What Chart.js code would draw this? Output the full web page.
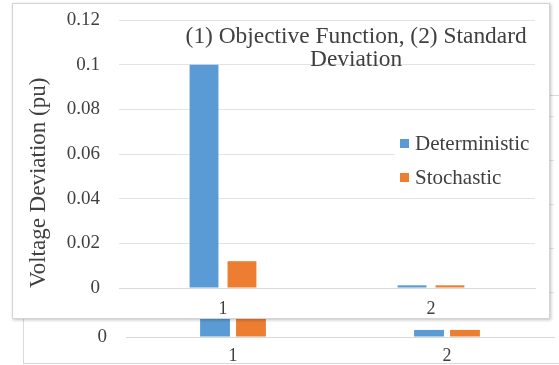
<!DOCTYPE html>
<html>
<head>
<meta charset="utf-8">
<script src="https://cdn.jsdelivr.net/npm/chart.js@4"></script>
<style>
  html, body { margin: 0; padding: 0; background: #fff; overflow: hidden; width: 559px; height: 365px; }
  #back { position: absolute; left: 23px; top: 95px; width: 600px; height: 267px; border: 1px solid #d9d9d9; background: #fff; }
  #main { position: absolute; left: 12px; top: 3px; width: 536px; height: 314px; border: 1px solid #d4d4d4; background: #fff; box-shadow: 1px 1px 3px rgba(0,0,0,0.25); }
</style>
</head>
<body>
<div id="back"><canvas id="backChart"></canvas></div>
<div id="main"><canvas id="priceChart"></canvas></div>
<script>
// data
const categories = ['1', '2'];
const deterministic = [0.1, 0.0012];
const stochastic = [0.012, 0.0012];
const yTickLabels = ['0', '0.02', '0.04', '0.06', '0.08', '0.1', '0.12'];
const titleLines = ['(1) Objective Function, (2) Standard', 'Deviation'];
const seriesNames = ['Deterministic', 'Stochastic'];

// the half-hidden figure underneath
const backDeterministic = [0.1, 0.0032];
const backStochastic = [0.012, 0.0032];

const blue = '#5B9BD5';
const orange = '#ED7D31';
const serif = 'Liberation Serif, serif';
const textColor = '#404040';

// title and legend sit inside the plot area, so draw them here
const insideText = {
    id: 'insideText',
    afterDatasetsDraw(chart) {
        const ctx = chart.ctx;
        const a = chart.chartArea;
        ctx.save();
        ctx.fillStyle = textColor;
        ctx.textAlign = 'center';
        ctx.textBaseline = 'middle';
        ctx.font = '23.4px ' + serif;
        const cx = a.left + (a.right - a.left) * 0.57;
        ctx.fillText(titleLines[0], cx, a.top + 17);
        ctx.fillText(titleLines[1], cx, a.top + 40);

        // legend
        ctx.fillStyle = '#fff';
        ctx.fillRect(a.left + 276, a.top + 104, 140, 68);
        const colors = [blue, orange];
        ctx.font = '21px ' + serif;
        ctx.textAlign = 'left';
        for (let i = 0; i < seriesNames.length; i++) {
            const y = a.top + 124 + i * 34;
            ctx.fillStyle = colors[i];
            ctx.fillRect(a.left + 281, y - 5, 9, 9);
            ctx.fillStyle = textColor;
            ctx.fillText(seriesNames[i], a.left + 296, y);
        }
        ctx.restore();
    }
};

const mainCtx = document.getElementById('priceChart').getContext('2d');
const mainChart = new Chart(mainCtx, {
    type: 'bar',
    data: {
        labels: categories,
        datasets: [{
            label: seriesNames[0],
            data: deterministic,
            backgroundColor: blue,
            categoryPercentage: 0.365,
            barPercentage: 0.76
        }, {
            label: seriesNames[1],
            data: stochastic,
            backgroundColor: orange,
            categoryPercentage: 0.365,
            barPercentage: 0.76
        }]
    },
    options: {
        responsive: true,
        maintainAspectRatio: false,
        animation: false,
        layout: { padding: { top: 16, right: 14, left: 0, bottom: 0 } },
        plugins: {
            legend: { display: false },
            tooltip: { enabled: false }
        },
        scales: {
            x: {
                afterFit: (scale) => { scale.height = 30; },
                grid: { display: false, drawTicks: false },
                border: { display: true, color: '#d9d9d9' },
                ticks: { color: textColor, font: { family: serif, size: 18 }, padding: 10 }
            },
            y: {
                min: 0,
                max: 0.12,
                afterFit: (scale) => { scale.width = 106; },
                grid: { color: '#e3e3e3', tickLength: 19, tickColor: 'rgba(0,0,0,0)' },
                border: { display: false },
                ticks: {
                    stepSize: 0.02,
                    color: textColor,
                    padding: 0,
                    font: { family: serif, size: 19 },
                    callback: (v, i) => yTickLabels[i]
                },
                title: {
                    display: true,
                    text: 'Voltage Deviation (pu)',
                    align: 'start',
                    color: textColor,
                    font: { family: serif, size: 23 },
                    padding: { top: 12, bottom: 0 }
                }
            }
        }
    },
    plugins: [insideText]
});

const backCtx = document.getElementById('backChart').getContext('2d');
const backChart = new Chart(backCtx, {
    type: 'bar',
    data: {
        labels: categories,
        datasets: [{
            data: backDeterministic,
            backgroundColor: blue,
            categoryPercentage: 0.336,
            barPercentage: 0.83
        }, {
            data: backStochastic,
            backgroundColor: orange,
            categoryPercentage: 0.336,
            barPercentage: 0.83
        }]
    },
    options: {
        responsive: true,
        maintainAspectRatio: false,
        animation: false,
        layout: { padding: { top: 20, right: 70, left: 0, bottom: 0 } },
        plugins: {
            legend: { display: false },
            tooltip: { enabled: false }
        },
        scales: {
            x: {
                afterFit: (scale) => { scale.height = 26; },
                grid: { display: false, drawTicks: false },
                border: { display: true, color: '#d9d9d9' },
                ticks: { color: textColor, font: { family: serif, size: 18 }, padding: 8 }
            },
            y: {
                min: 0,
                max: 0.1,
                afterFit: (scale) => { scale.width = 102; },
                grid: { color: '#e3e3e3', tickLength: 19, tickColor: 'rgba(0,0,0,0)' },
                border: { display: false },
                ticks: {
                    stepSize: 0.02,
                    color: textColor,
                    padding: 0,
                    font: { family: serif, size: 19 },
                    callback: (v, i) => yTickLabels[i]
                }
            }
        }
    }
});
</script>
</body>
</html>
